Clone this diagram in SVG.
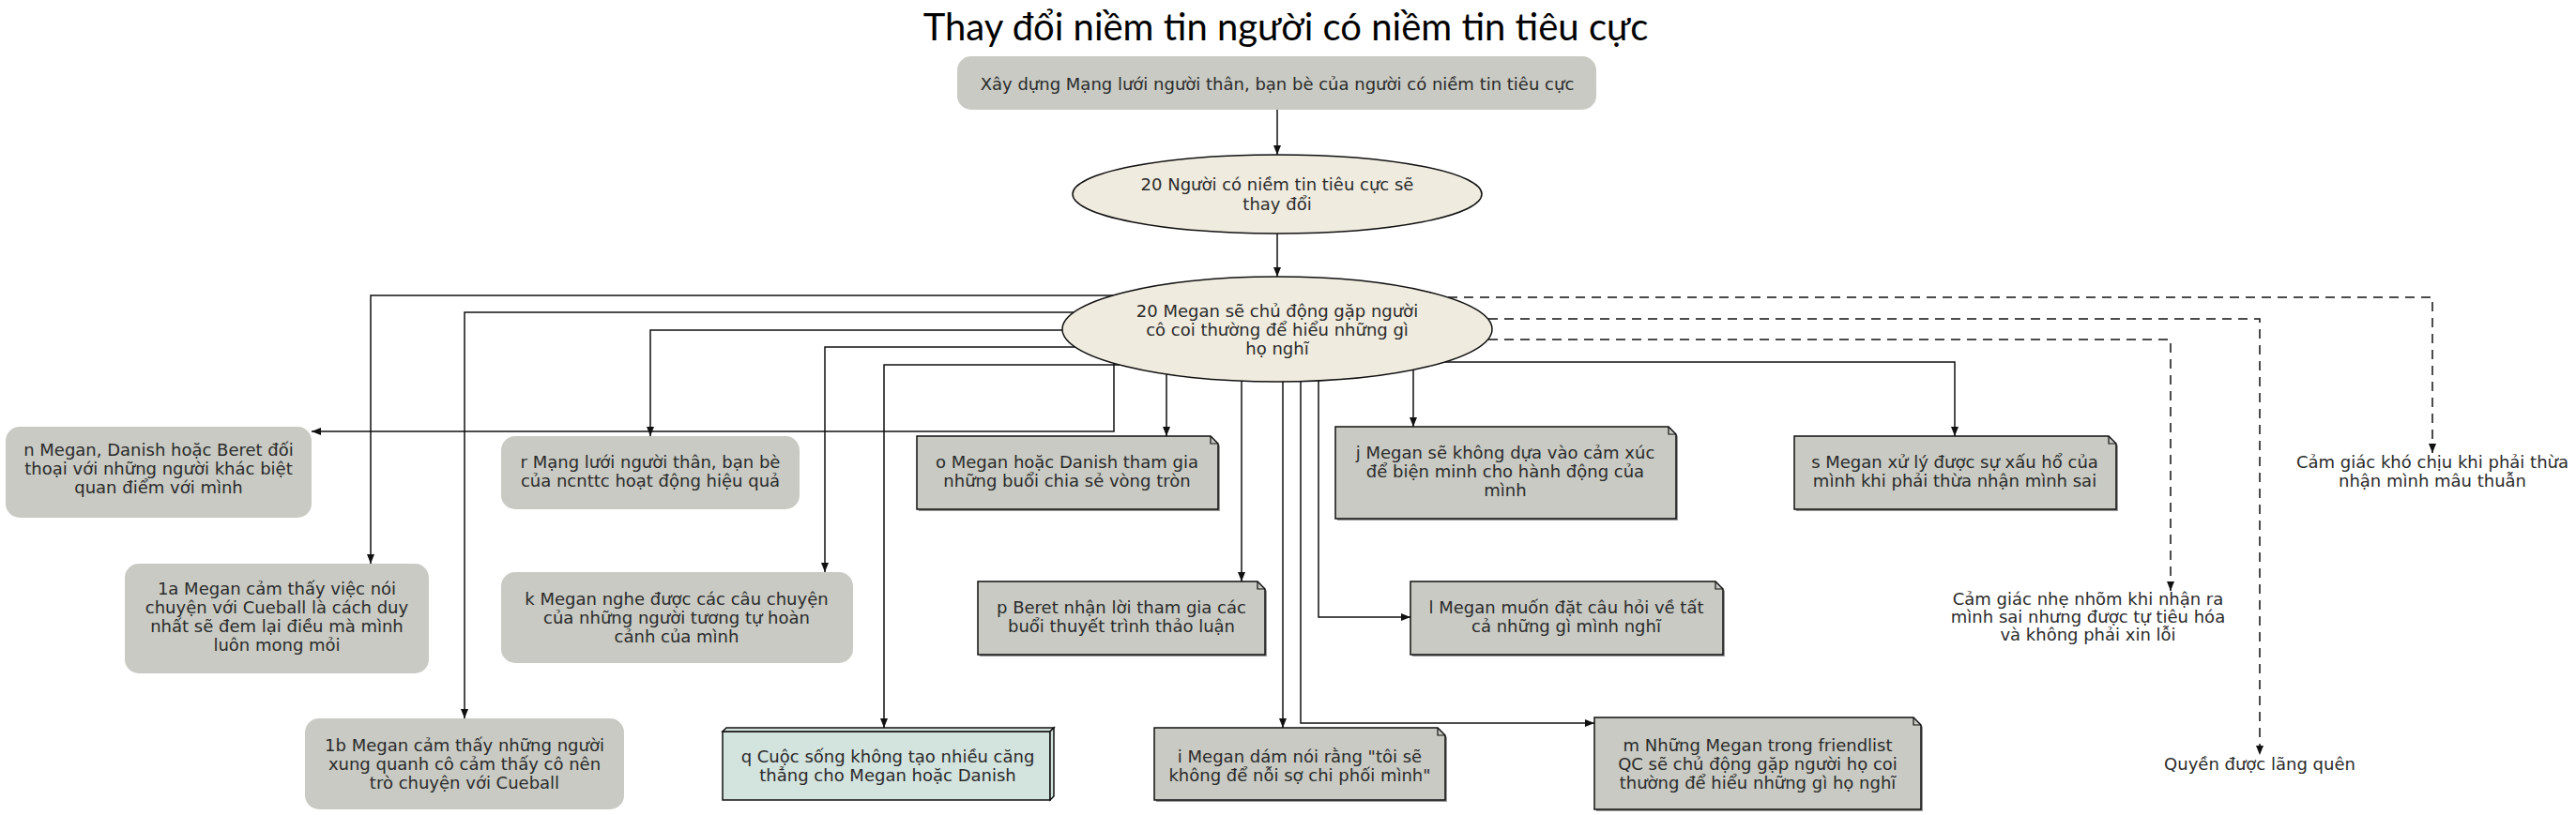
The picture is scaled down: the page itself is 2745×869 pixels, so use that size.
<svg xmlns="http://www.w3.org/2000/svg" width="2745" height="869" viewBox="0 0 2745 869">
<style>
.t{font-family:"DejaVu Sans","Noto Sans",sans-serif;font-size:18px;fill:#2b2b2b;text-anchor:middle}
.title{font-family:Lato,"Noto Sans",sans-serif;font-size:40px;fill:#000;text-anchor:middle}
.rb{fill:#c8cac3}
.note{fill:#c8cac3;stroke:#111;stroke-width:1.5}
.box3d{fill:#d3e3de;stroke:#111;stroke-width:1.5}
.sh{fill:#9a9a9a}
.el{fill:#efebdf;stroke:#111;stroke-width:1.5}
.e{fill:none;stroke:#111;stroke-width:1.5}
.d{fill:none;stroke:#111;stroke-width:1.5;stroke-dasharray:10,7}
.fold{fill:none;stroke:#111;stroke-width:1.2}
</style>
<defs>
<marker id="ah" markerWidth="10" markerHeight="8" refX="10" refY="4" orient="auto" markerUnits="userSpaceOnUse"><path d="M0,0 L10,4 L0,8 z" fill="#111"/></marker>
</defs>
<rect width="2745" height="869" fill="#fff"/>
<text class="title" x="1370" y="43">Thay đổi niềm tin người có niềm tin tiêu cực</text>

<g id="connectors">
<path class="e" d="M1361,117 V165" marker-end="url(#ah)"/>
<path class="e" d="M1361,249 V295" marker-end="url(#ah)"/>
<path class="e" d="M1186,315 H395 V601" marker-end="url(#ah)"/>
<path class="e" d="M1144,333 H495 V766" marker-end="url(#ah)"/>
<path class="e" d="M1132,352 H693 V465" marker-end="url(#ah)"/>
<path class="e" d="M1146,370 H879 V610" marker-end="url(#ah)"/>
<path class="e" d="M1193,389 H942 V776" marker-end="url(#ah)"/>
<path class="e" d="M1187,388 V460 H332" marker-end="url(#ah)"/>
<path class="e" d="M1243,399 V465" marker-end="url(#ah)"/>
<path class="e" d="M1323,406 V620" marker-end="url(#ah)"/>
<path class="e" d="M1367,407 V776" marker-end="url(#ah)"/>
<path class="e" d="M1386,407 V771 H1699" marker-end="url(#ah)"/>
<path class="e" d="M1405,406 V658 H1503" marker-end="url(#ah)"/>
<path class="e" d="M1506,394 V455" marker-end="url(#ah)"/>
<path class="e" d="M1540,386 H2083 V465" marker-end="url(#ah)"/>
<path class="d" d="M1543,317 H2592 V483" marker-end="url(#ah)"/>
<path class="d" d="M1586,340 H2408 V805" marker-end="url(#ah)"/>
<path class="d" d="M1586,362 H2313 V630" marker-end="url(#ah)"/>
</g>

<g id="nodeA">
<rect class="rb" x="1020" y="60" width="681" height="57" rx="15"/>
<text class="t" x="1361" y="96">Xây dựng Mạng lưới người thân, bạn bè của người có niềm tin tiêu cực</text>
</g>
<g id="nodeB">
<ellipse class="el" cx="1361" cy="207" rx="218" ry="42"/>
<text class="t" x="1361" y="203">20 Người có niềm tin tiêu cực sẽ</text>
<text class="t" x="1361" y="224">thay đổi</text>
</g>
<g id="nodeC">
<ellipse class="el" cx="1361" cy="351" rx="229" ry="56"/>
<text class="t" x="1361" y="338">20 Megan sẽ chủ động gặp người</text>
<text class="t" x="1361" y="358">cô coi thường để hiểu những gì</text>
<text class="t" x="1361" y="378">họ nghĩ</text>
</g>
<g id="node-n">
<rect class="rb" x="6" y="455" width="326" height="97" rx="15"/>
<text class="t" x="169" y="486">n Megan, Danish hoặc Beret đối</text>
<text class="t" x="169" y="506">thoại với những người khác biệt</text>
<text class="t" x="169" y="526">quan điểm với mình</text>
</g>
<g id="node-r">
<rect class="rb" x="534" y="465" width="318" height="78" rx="15"/>
<text class="t" x="693" y="499">r Mạng lưới người thân, bạn bè</text>
<text class="t" x="693" y="519">của ncnttc hoạt động hiệu quả</text>
</g>
<g id="node-1a">
<rect class="rb" x="133" y="601" width="324" height="117" rx="15"/>
<text class="t" x="295" y="634">1a Megan cảm thấy việc nói</text>
<text class="t" x="295" y="654">chuyện với Cueball là cách duy</text>
<text class="t" x="295" y="674">nhất sẽ đem lại điều mà mình</text>
<text class="t" x="295" y="694">luôn mong mỏi</text>
</g>
<g id="node-1b">
<rect class="rb" x="325" y="766" width="340" height="97" rx="15"/>
<text class="t" x="495" y="801">1b Megan cảm thấy những người</text>
<text class="t" x="495" y="821">xung quanh cô cảm thấy cô nên</text>
<text class="t" x="495" y="841">trò chuyện với Cueball</text>
</g>
<g id="node-k">
<rect class="rb" x="534" y="610" width="375" height="97" rx="15"/>
<text class="t" x="721" y="645">k Megan nghe được các câu chuyện</text>
<text class="t" x="721" y="665">của những người tương tự hoàn</text>
<text class="t" x="721" y="685">cảnh của mình</text>
</g>
<g id="node-q">
<rect class="box3d" x="770" y="780" width="349" height="73"/>
<polygon class="box3d" points="770,780 774,776 1123,776 1119,780"/>
<polygon class="box3d" points="1119,780 1123,776 1123,849 1119,853"/>
<text class="t" x="946" y="813">q Cuộc sống không tạo nhiều căng</text>
<text class="t" x="946" y="833">thẳng cho Megan hoặc Danish</text>
</g>
<g id="node-o">
<polygon class="sh" points="979,467 1292,467 1300,475 1300,545 979,545"/>
<polygon class="note" points="977,465 1290,465 1298,473 1298,543 977,543"/>
<path class="fold" d="M1290,465 V473 H1298"/>
<text class="t" x="1137" y="499">o Megan hoặc Danish tham gia</text>
<text class="t" x="1137" y="519">những buổi chia sẻ vòng tròn</text>
</g>
<g id="node-p">
<polygon class="sh" points="1044,622 1342,622 1350,630 1350,700 1044,700"/>
<polygon class="note" points="1042,620 1340,620 1348,628 1348,698 1042,698"/>
<path class="fold" d="M1340,620 V628 H1348"/>
<text class="t" x="1195" y="654">p Beret nhận lời tham gia các</text>
<text class="t" x="1195" y="674">buổi thuyết trình thảo luận</text>
</g>
<g id="node-i">
<polygon class="sh" points="1232,778 1534,778 1542,786 1542,855 1232,855"/>
<polygon class="note" points="1230,776 1532,776 1540,784 1540,853 1230,853"/>
<path class="fold" d="M1532,776 V784 H1540"/>
<text class="t" x="1385" y="813">i Megan dám nói rằng "tôi sẽ</text>
<text class="t" x="1385" y="833">không để nỗi sợ chi phối mình"</text>
</g>
<g id="node-j">
<polygon class="sh" points="1425,457 1780,457 1788,465 1788,555 1425,555"/>
<polygon class="note" points="1423,455 1778,455 1786,463 1786,553 1423,553"/>
<path class="fold" d="M1778,455 V463 H1786"/>
<text class="t" x="1604" y="489">j Megan sẽ không dựa vào cảm xúc</text>
<text class="t" x="1604" y="509">để biện minh cho hành động của</text>
<text class="t" x="1604" y="529">mình</text>
</g>
<g id="node-l">
<polygon class="sh" points="1505,622 1830,622 1838,630 1838,700 1505,700"/>
<polygon class="note" points="1503,620 1828,620 1836,628 1836,698 1503,698"/>
<path class="fold" d="M1828,620 V628 H1836"/>
<text class="t" x="1669" y="654">l Megan muốn đặt câu hỏi về tất</text>
<text class="t" x="1669" y="674">cả những gì mình nghĩ</text>
</g>
<g id="node-m">
<polygon class="sh" points="1701,767 2041,767 2049,775 2049,865 1701,865"/>
<polygon class="note" points="1699,765 2039,765 2047,773 2047,863 1699,863"/>
<path class="fold" d="M2039,765 V773 H2047"/>
<text class="t" x="1873" y="801">m Những Megan trong friendlist</text>
<text class="t" x="1873" y="821">QC sẽ chủ động gặp người họ coi</text>
<text class="t" x="1873" y="841">thường để hiểu những gì họ nghĩ</text>
</g>
<g id="node-s">
<polygon class="sh" points="1914,467 2249,467 2257,475 2257,545 1914,545"/>
<polygon class="note" points="1912,465 2247,465 2255,473 2255,543 1912,543"/>
<path class="fold" d="M2247,465 V473 H2255"/>
<text class="t" x="2083" y="499">s Megan xử lý được sự xấu hổ của</text>
<text class="t" x="2083" y="519">mình khi phải thừa nhận mình sai</text>
</g>
<g id="node-t1">
<text class="t" x="2592" y="499">Cảm giác khó chịu khi phải thừa</text>
<text class="t" x="2592" y="519">nhận mình mâu thuẫn</text>
</g>
<g id="node-t2">
<text class="t" x="2225" y="645">Cảm giác nhẹ nhõm khi nhận ra</text>
<text class="t" x="2225" y="664">mình sai nhưng được tự tiêu hóa</text>
<text class="t" x="2225" y="683">và không phải xin lỗi</text>
</g>
<g id="node-t3">
<text class="t" x="2408" y="821">Quyền được lãng quên</text>
</g>
</svg>
